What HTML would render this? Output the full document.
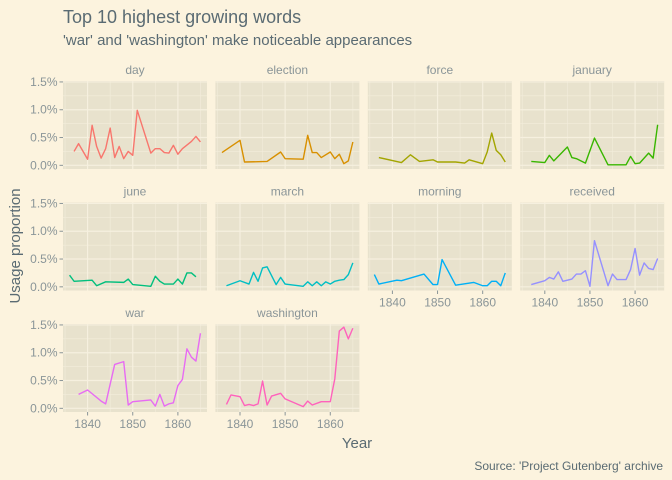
<!DOCTYPE html>
<html><head><meta charset="utf-8"><style>
body{margin:0;background:#FCF3DE;}
svg{display:block;font-family:"Liberation Sans",sans-serif;}
</style></head><body>
<svg id="c" width="672" height="480" viewBox="0 0 672 480">
<rect width="672" height="480" fill="#FCF3DE"/>
<text x="63" y="23" font-size="18" fill="#5A6B73">Top 10 highest growing words</text>
<text x="63" y="45" font-size="15" fill="#5A6B73">'war' and 'washington' make noticeable appearances</text>
<text x="357" y="448" font-size="15" fill="#5A6B73" text-anchor="middle">Year</text>
<text transform="translate(20,246) rotate(-90)" font-size="15" fill="#5A6B73" text-anchor="middle">Usage proportion</text>
<text x="663" y="470" font-size="12" fill="#5A6B73" text-anchor="end">Source: 'Project Gutenberg' archive</text>
<g id="panels"></g>
</svg>
<script>
const words = ["day","election","force","january","june","march","morning","received","war","washington"];
const colors = ["#F8766D","#D89000","#A3A500","#39B600","#00BF7D","#00BFC4","#00B0F6","#9590FF","#E76BF3","#FF62BC"];
const yTicks = [0,0.5,1.0,1.5];
const yTickLabels = ["0.0%","0.5%","1.0%","1.5%"];
const xTicks = [1840,1850,1860];
const xTickLabels = ["1840","1850","1860"];
const dayYears = [1837,1838,1840,1841,1842,1843,1844,1845,1846,1847,1848,1849,1850,1851,1854,1855,1856,1857,1858,1859,1860,1861,1863,1864,1865];
const dayVals = [0.25,0.39,0.11,0.72,0.34,0.13,0.30,0.67,0.14,0.34,0.12,0.25,0.18,0.99,0.22,0.30,0.30,0.23,0.22,0.36,0.20,0.30,0.43,0.52,0.42];
const electionYears = [1836,1840,1841,1846,1849,1850,1854,1855,1856,1857,1858,1860,1861,1862,1863,1864,1865];
const electionVals = [0.23,0.45,0.06,0.07,0.24,0.12,0.11,0.54,0.23,0.23,0.14,0.24,0.12,0.20,0.03,0.08,0.42];
const forceYears = [1837,1842,1844,1846,1849,1850,1854,1856,1857,1860,1861,1862,1863,1864,1865];
const forceVals = [0.14,0.05,0.19,0.07,0.10,0.06,0.06,0.04,0.10,0.03,0.24,0.58,0.27,0.19,0.06];
const januaryYears = [1837,1840,1841,1842,1845,1846,1847,1848,1849,1851,1854,1858,1859,1860,1861,1863,1864,1865];
const januaryVals = [0.07,0.05,0.18,0.08,0.33,0.14,0.12,0.08,0.04,0.49,0.01,0.01,0.16,0.03,0.04,0.22,0.13,0.73];
const juneYears = [1836,1837,1841,1842,1844,1848,1849,1850,1854,1855,1856,1857,1859,1860,1861,1862,1863,1864];
const juneVals = [0.21,0.10,0.12,0.02,0.09,0.08,0.14,0.04,0.01,0.19,0.10,0.05,0.05,0.14,0.05,0.25,0.25,0.18];
const marchYears = [1837,1840,1842,1843,1844,1845,1846,1848,1849,1850,1854,1855,1856,1857,1858,1859,1860,1861,1862,1863,1864,1865];
const marchVals = [0.02,0.11,0.05,0.26,0.10,0.34,0.36,0.04,0.17,0.05,0.01,0.09,0.02,0.09,0.02,0.09,0.05,0.10,0.12,0.13,0.22,0.43];
const morningYears = [1836,1837,1841,1842,1847,1849,1850,1851,1854,1858,1860,1861,1862,1863,1864,1865];
const morningVals = [0.22,0.05,0.12,0.11,0.23,0.04,0.04,0.49,0.03,0.08,0.02,0.02,0.10,0.10,0.02,0.25];
const receivedYears = [1837,1840,1841,1842,1843,1844,1846,1847,1848,1849,1850,1851,1854,1855,1856,1858,1859,1860,1861,1862,1863,1864,1865];
const receivedVals = [0.04,0.11,0.17,0.14,0.27,0.10,0.14,0.23,0.23,0.29,0.01,0.83,0.02,0.23,0.13,0.13,0.31,0.69,0.21,0.43,0.33,0.31,0.51];
const warYears = [1838,1840,1843,1844,1846,1848,1849,1850,1854,1855,1856,1857,1858,1859,1860,1861,1862,1863,1864,1865];
const warVals = [0.25,0.33,0.13,0.08,0.79,0.84,0.06,0.12,0.15,0.04,0.25,0.04,0.08,0.10,0.41,0.52,1.07,0.92,0.85,1.35];
const washingtonYears = [1837,1838,1840,1841,1842,1843,1844,1845,1846,1847,1849,1850,1854,1855,1856,1858,1860,1861,1862,1863,1864,1865];
const washingtonVals = [0.07,0.24,0.21,0.05,0.07,0.05,0.08,0.49,0.06,0.22,0.27,0.17,0.03,0.13,0.06,0.12,0.12,0.53,1.39,1.46,1.25,1.44];

const seriesYears = [dayYears,electionYears,forceYears,januaryYears,juneYears,marchYears,morningYears,receivedYears,warYears,washingtonYears];
const seriesVals = [dayVals,electionVals,forceVals,januaryVals,juneVals,marchVals,morningVals,receivedVals,warVals,washingtonVals];

const NS="http://www.w3.org/2000/svg";
const root=document.getElementById('panels');
const PW=144, PH=88, colStep=152.4, rowStep=121.5, left0=63, top0=81;
const xMin=1834.55, xMax=1866.45, yMin=-0.066, yMax=1.517;
function mk(tag,attrs,parent){const e=document.createElementNS(NS,tag);for(const k in attrs)e.setAttribute(k,attrs[k]);(parent||root).appendChild(e);return e;}
for(let i=0;i<words.length;i++){
  const col=i%4,row=Math.floor(i/4);
  const L=left0+col*colStep, T=top0+row*rowStep;
  const sx=v=>L+(v-xMin)/(xMax-xMin)*PW;
  const sy=v=>T+PH-(v-yMin)/(yMax-yMin)*PH;
  const g=mk('g',{});
  
  
  const bg=mk('rect',{x:L,y:T,width:PW,height:PH,fill:'#E8E2CD'},g);
  
  
  [0.25,0.75,1.25].forEach(v=>mk('line',{x1:L,x2:L+PW,y1:sy(v),y2:sy(v),stroke:'#F3EDDB','stroke-width':0.6},g));
  [1835,1845,1855,1865].forEach(v=>mk('line',{x1:sx(v),x2:sx(v),y1:T,y2:T+PH,stroke:'#F3EDDB','stroke-width':0.6},g));
  yTicks.forEach(v=>mk('line',{x1:L,x2:L+PW,y1:sy(v),y2:sy(v),stroke:'#F6F0DF','stroke-width':1.2},g));
  xTicks.forEach(v=>mk('line',{x1:sx(v),x2:sx(v),y1:T,y2:T+PH,stroke:'#F6F0DF','stroke-width':1.2},g));
  const strip=mk('text',{x:L+PW/2,y:T-7,'font-size':12,fill:'#8A9598','text-anchor':'middle'},g);
  strip.textContent=words[i];
  
  
  const d=seriesYears[i].map((y,j)=>(j?'L':'M')+sx(y).toFixed(2)+','+sy(seriesVals[i][j]).toFixed(2)).join(' ');
  const p=mk('path',{d:d,fill:'none',stroke:colors[i],'stroke-width':1.4,'stroke-linejoin':'round'},g);
  
  
  if(col===0){
    yTicks.forEach((v,k)=>{
      mk('line',{x1:L-3.5,x2:L,y1:sy(v),y2:sy(v),stroke:'#8A9598','stroke-width':1},g);
      const t=mk('text',{x:L-5.5,y:sy(v)+4,'font-size':12,fill:'#8A9598','text-anchor':'end'},g);
      t.textContent=yTickLabels[k];
      
      
    });
  }
  if(i>=6){
    xTicks.forEach((v,k)=>{
      mk('line',{x1:sx(v),x2:sx(v),y1:T+PH,y2:T+PH+3.5,stroke:'#8A9598','stroke-width':1},g);
      const t=mk('text',{x:sx(v),y:T+PH+16,'font-size':12,fill:'#8A9598','text-anchor':'middle'},g);
      t.textContent=xTickLabels[k];
      
      
    });
  }
}
</script>
</body></html>
